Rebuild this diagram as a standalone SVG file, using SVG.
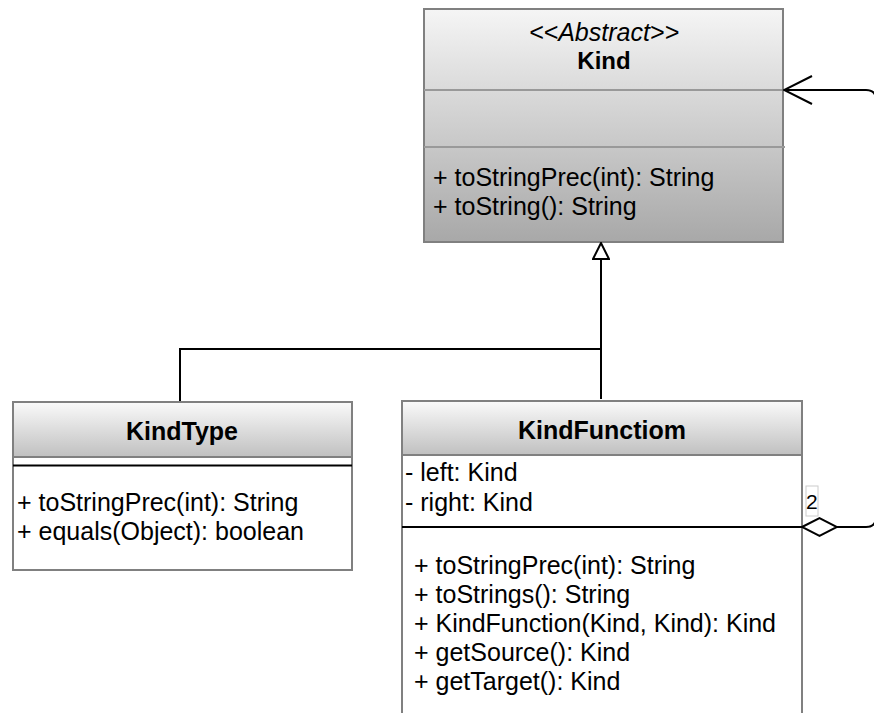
<svg xmlns="http://www.w3.org/2000/svg" width="874" height="713" viewBox="0 0 874 713">
  <style>
    text { font-family: "Liberation Sans", Arial, Helvetica, sans-serif; font-size: 25px; fill: #000; }
    .title { font-weight: bold; text-anchor: middle; }
    .stereo { font-style: italic; text-anchor: middle; }
    .box { stroke: #808080; stroke-width: 2; }
    .sep { stroke: #999999; stroke-width: 2; }
    .rule { stroke: #000; stroke-width: 2; }
    .edge { fill: none; stroke: #000; stroke-width: 2; }
    .mult { font-size: 21px; }
  </style>
  <defs>
    <linearGradient id="abstractFill" x1="0" y1="0" x2="0" y2="1">
      <stop offset="0" stop-color="#f5f5f5"/>
      <stop offset="1" stop-color="#a8a8a8"/>
    </linearGradient>
    <linearGradient id="headFill" x1="0" y1="0" x2="0" y2="1">
      <stop offset="0" stop-color="#fafafa"/>
      <stop offset="1" stop-color="#c0c0c0"/>
    </linearGradient>
    <marker id="hollowTriangle" viewBox="-1 -1 18 18" refX="16" refY="8" markerWidth="18" markerHeight="18" markerUnits="userSpaceOnUse" orient="auto">
      <path d="M0,0 L16,8 L0,16 Z" fill="#fff" stroke="#000" stroke-width="2"/>
    </marker>
    <marker id="openArrow" viewBox="-2 -2 32 32" refX="28" refY="14" markerWidth="32" markerHeight="32" markerUnits="userSpaceOnUse" orient="auto">
      <path d="M0,0 L28,14 L0,28" fill="none" stroke="#000" stroke-width="2"/>
    </marker>
    <marker id="hollowDiamond" viewBox="-2 -2 39 22" refX="0" refY="9" markerWidth="39" markerHeight="22" markerUnits="userSpaceOnUse" orient="auto">
      <path d="M0,9 L17.5,0 L35,9 L17.5,18 Z" fill="#fff" stroke="#000" stroke-width="2"/>
    </marker>
  </defs>

  <!-- abstract base class -->
  <g id="Kind">
    <rect class="box" x="424" y="9" width="359" height="233" fill="url(#abstractFill)"/>
    <line class="sep" x1="424" y1="90" x2="783" y2="90"/>
    <line class="sep" x1="424" y1="147" x2="785" y2="147"/>
    <text class="stereo" x="604" y="41">&lt;&lt;Abstract&gt;&gt;</text>
    <text class="title" x="604" y="69" style="font-size:24px">Kind</text>
    <text x="433" y="186">+ toStringPrec(int): String</text>
    <text x="433" y="215">+ toString(): String</text>
  </g>

  <g id="KindType">
    <rect class="box" x="13" y="402" width="339" height="168" fill="#fff"/>
    <rect class="box" x="13" y="402" width="339" height="55" fill="url(#headFill)"/>
    <line class="rule" x1="13" y1="465.5" x2="352" y2="465.5"/>
    <text class="title" x="182" y="440">KindType</text>
    <text x="17" y="511">+ toStringPrec(int): String</text>
    <text x="17" y="540">+ equals(Object): boolean</text>
  </g>

  <g id="KindFunctiom">
    <rect class="box" x="402" y="401" width="400" height="330" fill="#fff"/>
    <rect class="box" x="402" y="401" width="400" height="54" fill="url(#headFill)"/>
    <line class="rule" x1="402" y1="527" x2="802" y2="527"/>
    <text class="title" x="602" y="439">KindFunctiom</text>
    <text x="405" y="481">- left: Kind</text>
    <text x="405" y="511">- right: Kind</text>
    <text x="414" y="574">+ toStringPrec(int): String</text>
    <text x="414" y="603">+ toStrings(): String</text>
    <text x="414" y="632">+ KindFunction(Kind, Kind): Kind</text>
    <text x="414" y="661">+ getSource(): Kind</text>
    <text x="414" y="690">+ getTarget(): Kind</text>
  </g>

  <g id="connectors">
    <!-- generalization: both subclasses to Kind -->
    <path class="edge" d="M601,399 V243" marker-end="url(#hollowTriangle)"/>
    <path class="edge" d="M180,401 V349 H601"/>
    <!-- aggregation: KindFunctiom holds two Kind references -->
    <path class="edge" d="M802,527 H866 Q876,527 876,517 V100 Q876,90 866,90 H784" marker-start="url(#hollowDiamond)" marker-end="url(#openArrow)"/>
    <rect x="806" y="486" width="12" height="30" fill="#fff" stroke="#cccccc" stroke-width="1"/>
    <text class="mult" x="806" y="509">2</text>
  </g>
</svg>
